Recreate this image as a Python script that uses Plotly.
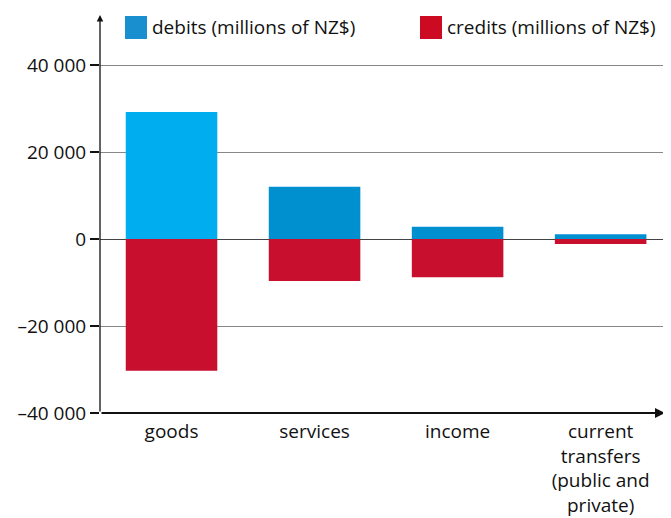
import plotly.graph_objects as go

categories = ["goods", "services", "income", "current<br>transfers<br>(public and<br>private)"]
debits = [29200, 12000, 2800, 1100]
credits = [-30300, -9650, -8800, -1150]
debit_colors = ["#00aeef", "#0090d0", "#0090d0", "#0090d0"]
credit_color = "#c8102e"
tick_vals = [-40000, -20000, 0, 20000, 40000]
tick_text = ["\u201340 000", "\u201320 000", "0", "20 000", "40 000"]
legend_labels = ["debits (millions of NZ$)", "credits (millions of NZ$)"]
legend_colors = ["#1a8fd0", "#cc0a22"]

FONT = "Open Sans"
FS = 19

# page body has an 8px default margin, so the figure is drawn 8px smaller
fig = go.Figure()
fig.add_trace(go.Bar(x=categories, y=debits, marker=dict(color=debit_colors, line=dict(width=0)),
                     showlegend=False))
fig.add_trace(go.Bar(x=categories, y=credits, marker=dict(color=credit_color, line=dict(width=0)),
                     showlegend=False))

fig.update_layout(
    width=663, height=510,
    margin=dict(l=92, r=6, t=7, b=105),
    barmode="relative",
    bargap=0.36,
    plot_bgcolor="white", paper_bgcolor="white",
    font=dict(family=FONT, size=FS, color="#111"),
    xaxis=dict(range=[-0.5, 3.45], showgrid=False, showline=False, ticks="",
               tickfont=dict(size=FS), zeroline=False, automargin=False,
               ticklabelstandoff=5),
    yaxis=dict(range=[-40000, 51500], tickvals=tick_vals, ticktext=tick_text,
               showgrid=True, gridcolor="#888", gridwidth=1,
               zeroline=True, zerolinecolor="#444", zerolinewidth=1.2,
               ticks="outside", ticklen=9, tickcolor="#111", tickwidth=1.5,
               showline=False, tickfont=dict(size=19), automargin=False),
)

# axis arrows
fig.add_annotation(x=0, y=1, xref="paper", yref="paper", ax=0, ay=398, axref="pixel", ayref="pixel",
                   showarrow=True, arrowhead=2, arrowsize=1, arrowwidth=1.3, arrowcolor="#111", text="")
fig.add_annotation(x=1, y=0, xref="paper", yref="paper", ax=-565, ay=0, axref="pixel", ayref="pixel",
                   showarrow=True, arrowhead=2, arrowsize=1, arrowwidth=2, arrowcolor="#111", text="")

# custom legend
legend_x = [125, 420]
for lx, lab, col in zip(legend_x, legend_labels, legend_colors):
    fig.add_shape(type="rect", xref="paper", yref="paper",
                  x0=(lx - 100) / 565, x1=(lx + 22 - 100) / 565,
                  y0=(413 - 39) / 398, y1=(413 - 16) / 398,
                  fillcolor=col, line=dict(width=0))
    fig.add_annotation(x=(lx + 25 - 100) / 565, y=(413 - 27) / 398, xref="paper", yref="paper",
                       text=lab, showarrow=False, xanchor="left", yanchor="middle",
                       font=dict(size=19, family=FONT, color="#111"))

fig.write_html("out.html")
